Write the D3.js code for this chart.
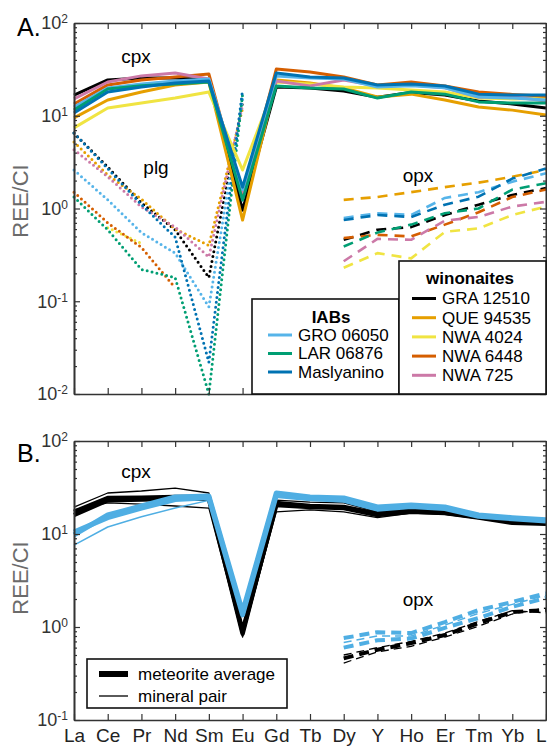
<!DOCTYPE html>
<html>
<head>
<meta charset="utf-8">
<script src="https://cdn.jsdelivr.net/npm/d3@7"></script>
<style>
  body { margin: 0; background: #fff; }
  svg { display: block; font-family: "Liberation Sans", Arial, sans-serif; }
</style>
</head>
<body>
<div id="chart"></div>
<script>
// categories
const elements = ["La", "Ce", "Pr", "Nd", "Sm", "Eu", "Gd", "Tb", "Dy", "Y", "Ho", "Er", "Tm", "Yb", "Lu"]
const winonaites = ["GRA 12510", "QUE 94535", "NWA 4024", "NWA 6448", "NWA 725"]
const iabs = ["GRO 06050", "LAR 06876", "Maslyanino"]
const samples = winonaites.concat(iabs)
const sampleColors = ["#000000", "#E69F00", "#F0E442", "#D55E00", "#CC79A7", "#56B4E9", "#009E73", "#0072B2"]

// panel A, one row per sample (same order as samples), null = not measured
const cpxA = [
  [16.7, 24.3, 25.5, 25.5, 24.3, 0.96, 20.4, 19.9, 18.5, 15.8, 17.8, 16.7, 14.4, 13.4, 12.1],
  [9.5, 14.8, 18.0, 21.5, 23.1, 0.75, 24.3, 22.5, 19.9, 15.9, 17.1, 14.8, 12.4, 11.5, 10.2],
  [7.4, 12.1, 13.7, 15.5, 18.0, 2.6, 23.1, 22.0, 20.4, 19.9, 19.0, 18.0, 15.5, 15.2, 15.5],
  [13.4, 21.5, 24.3, 26.2, 28.2, 1.3, 31.9, 29.7, 26.2, 21.5, 23.1, 20.9, 18.0, 17.0, 16.2],
  [15.2, 23.1, 26.9, 28.9, 24.9, 1.5, 23.7, 21.0, 24.3, 20.9, 21.5, 20.0, 15.9, 16.0, 14.4],
  [12.4, 19.9, 22.0, 23.7, 24.9, 1.6, 26.9, 25.5, 24.9, 20.4, 21.0, 20.0, 15.9, 15.5, 14.8],
  [11.5, 19.4, 21.0, 22.0, 23.1, 1.23, 20.9, 19.9, 19.4, 15.5, 18.0, 17.1, 14.1, 13.7, 13.7],
  [10.7, 18.0, 20.4, 22.6, 23.7, 1.7, 28.9, 26.2, 25.5, 21.5, 22.0, 20.9, 17.1, 16.7, 16.7],
]
const plgA = [
  [6.5, 2.8, 1.15, 0.59, 0.18, 14, null, null, null, null, null, null, null, null, null],
  [5.2, 2.3, 1.26, 0.60, 0.40, 12, null, null, null, null, null, null, null, null, null],
  [null, 0.62, 0.42, null, null, null, null, null, null, null, null, null, null, null, null],
  [1.5, 0.70, 0.38, 0.14, null, null, null, null, null, null, null, null, null, null, null],
  [4.3, 2.2, 1.04, 0.63, 0.30, 13, null, null, null, null, null, null, null, null, null],
  [2.6, 1.24, 0.55, 0.33, 0.087, 15, null, null, null, null, null, null, null, null, null],
  [1.33, 0.59, 0.22, 0.18, 0.01, 17, null, null, null, null, null, null, null, null, null],
  [6.5, 2.7, 1.1, 0.49, 0.022, 19, null, null, null, null, null, null, null, null, null],
]
const opxA = [
  [null, null, null, null, null, null, null, null, 0.46, 0.59, 0.63, 0.85, 1.1, 1.4, 1.66],
  [null, null, null, null, null, null, null, null, 1.24, 1.33, 1.5, 1.7, 1.9, 2.2, 2.6],
  [null, null, null, null, null, null, null, null, 0.23, 0.33, 0.29, 0.56, 0.61, 0.85, 1.05],
  [null, null, null, null, null, null, null, null, 0.48, 0.52, 0.5, 0.67, 0.91, 1.33, 1.6],
  [null, null, null, null, null, null, null, null, 0.27, 0.47, 0.46, 0.74, 0.81, 1.05, 1.18],
  [null, null, null, null, null, null, null, null, 0.79, 0.89, 0.85, 1.3, 1.5, 1.94, 2.4],
  [null, null, null, null, null, null, null, null, 0.39, 0.55, 0.67, 0.89, 1.0, 1.6, 1.87],
  [null, null, null, null, null, null, null, null, 0.75, 0.85, 0.81, 1.1, 1.34, 2.1, 2.7],
]

// panel B: meteorite averages (thick) and mineral pairs (thin), winonaites black, IABs blue
const cpxAvgWin = [
  [17.3, 24.4, 24.6, 25.0, 25.0, 0.9, 20.5, 19.5, 19.0, 16.0, 17.3, 16.8, 15.0, 13.2, 12.9],
  [16.0, 23.1, 23.5, 24.0, 24.0, 0.85, 21.5, 20.0, 19.5, 16.5, 17.8, 17.0, 15.3, 13.6, 13.2],
]
const cpxPairWin = [
  [19.5, 27.6, 29.0, 31.2, 27.6, 0.78, 23.1, 22.0, 21.6, 17.3, 19.0, 17.5, 15.5, 14.0, 13.5],
  [18.2, 21.6, 21.0, 20.0, 19.0, 0.8, 17.3, 18.2, 17.3, 15.0, 16.8, 16.3, 14.6, 13.0, 12.6],
]
const cpxAvgIab = [
  [9.8, 16.0, 20.0, 25.0, 25.6, 1.45, 27.6, 25.0, 24.4, 19.5, 20.5, 19.5, 16.0, 15.0, 14.2],
  [10.5, 15.0, 19.0, 23.5, 24.5, 1.35, 26.0, 24.0, 23.0, 18.5, 19.8, 18.8, 15.5, 14.6, 13.8],
]
const cpxPairIab = [
  [7.6, 11.9, 15.3, 19.0, 23.0, 1.3, 27.0, 24.6, 24.0, 19.2, 20.2, 19.2, 15.8, 14.8, 14.0],
]
const opxAvgWin = [
  [null, null, null, null, null, null, null, null, 0.46, 0.57, 0.67, 0.82, 1.1, 1.45, 1.52],
]
const opxPairWin = [
  [null, null, null, null, null, null, null, null, 0.5, 0.6, 0.7, 0.86, 1.15, 1.5, 1.42],
  [null, null, null, null, null, null, null, null, 0.41, 0.54, 0.62, 0.78, 1.02, 1.38, 1.6],
]
const opxAvgIab = [
  [null, null, null, null, null, null, null, null, 0.76, 0.88, 0.86, 1.13, 1.52, 1.86, 2.3],
  [null, null, null, null, null, null, null, null, 0.6, 0.72, 0.75, 0.98, 1.25, 1.65, 2.05],
]
const opxPairIab = [
  [null, null, null, null, null, null, null, null, 0.68, 0.8, 0.8, 1.05, 1.4, 1.75, 2.2],
]

const expA = [-2, -1, 0, 1, 2]
const expB = [-1, 0, 1, 2]

const svg = d3.select("#chart").append("svg")
  .attr("width", 547)
  .attr("height", 747)

const x = d3.scalePoint().domain(elements).range([74, 546])
const yA = d3.scaleLog().domain([1e-2, 1e2]).range([394, 23])
const yB = d3.scaleLog().domain([1e-1, 1e2]).range([720, 441])

const IAB_BLUE = "#4FAEE3"

const toPoints = (row) => row
  .map((v, i) => ({ el: elements[i], v: v }))
  .filter((d) => d.v != null)

const drawFrame = (y, exps, showX) => {
  const [y0, y1] = y.range()
  const minor = []
  exps.slice(0, -1).forEach((e) => {
    for (let k = 2; k < 10; k++) minor.push(k * Math.pow(10, e))
  })
  const g = svg.append("g").attr("class", "frame")

  // minor ticks left + right
  g.append("g").attr("transform", "translate(74,0)")
    .call(d3.axisLeft(y).tickValues(minor).tickSize(-3).tickSizeOuter(0).tickFormat(""))
  g.append("g").attr("transform", "translate(546,0)")
    .call(d3.axisRight(y).tickValues(minor).tickSize(-3).tickSizeOuter(0).tickFormat(""))

  // major left with 10^n labels
  const left = g.append("g").attr("transform", "translate(74,0)")
    .call(d3.axisLeft(y).tickValues(exps.map((e) => Math.pow(10, e))).tickSize(-6).tickSizeOuter(0).tickPadding(6))
  left.selectAll(".tick text").each(function (d) {
    const t = d3.select(this).text("")
      .attr("font-size", 18).attr("fill", "#333").attr("font-family", "Liberation Sans, Arial, sans-serif")
    t.append("tspan").text("10")
    t.append("tspan").attr("dy", "-0.5em").attr("font-size", 12).text(Math.round(Math.log10(d)))
  })
  g.append("g").attr("transform", "translate(546,0)")
    .call(d3.axisRight(y).tickValues(exps.map((e) => Math.pow(10, e))).tickSize(-6).tickSizeOuter(0).tickFormat(""))

  // top and bottom
  g.append("g").attr("transform", `translate(0,${y1})`)
    .call(d3.axisTop(x).tickSize(-6).tickSizeOuter(0).tickFormat(""))
  const bottom = g.append("g").attr("transform", `translate(0,${y0})`)
    .call(d3.axisBottom(x).tickSize(-6).tickSizeOuter(0).tickPadding(9).tickFormat(showX ? null : ""))
  bottom.selectAll(".tick text")
    .attr("font-size", 19).attr("fill", "#222").attr("font-family", "Liberation Sans, Arial, sans-serif")

  g.selectAll(".domain").attr("stroke", "#333").attr("stroke-width", 1.6)
  g.selectAll(".tick line").attr("stroke", "#333").attr("stroke-width", 1.2)
}

const drawLines = (rows, y, opts) => {
  const line = d3.line().x((d) => x(d.el)).y((d) => y(d.v))
  svg.append("g").selectAll("path").data(rows).enter()
    .append("path")
    .attr("d", (r) => line(toPoints(r)))
    .attr("fill", "none")
    .attr("stroke", (r, i) => opts.colors ? opts.colors[i] : opts.color)
    .attr("stroke-width", opts.width)
    .attr("stroke-linejoin", "round")
    .attr("stroke-linecap", opts.cap || "butt")
    .attr("stroke-dasharray", opts.dash || null)
}

const label = (txt, px, py, size, extra) => {
  const t = svg.append("text").attr("x", px).attr("y", py).attr("font-size", size).text(txt)
  if (extra) extra(t)
  return t
}

// ---- PANEL A ----
drawLines(opxA, yA, { colors: sampleColors, width: 2.6, dash: "10 7" })
drawLines(plgA, yA, { colors: sampleColors, width: 3, dash: "0 5", cap: "round" })
drawLines(cpxA, yA, { colors: sampleColors, width: 3 })
drawFrame(yA, expA, false)

label("cpx", 136, 63, 19, (t) => t.attr("text-anchor", "middle"))
label("plg", 156, 174, 19, (t) => t.attr("text-anchor", "middle"))
label("opx", 418, 182, 19, (t) => t.attr("text-anchor", "middle"))
label("A.", 17, 36, 25)
label("REE/CI", 20, 201, 22, (t) => t.attr("fill", "#6b6b6b").attr("text-anchor", "middle")
  .attr("transform", "rotate(-90,20,201)").attr("dy", "0.35em"))

// legend IABs
const legI = svg.append("g")
legI.append("rect").attr("x", 252).attr("y", 299).attr("width", 147).attr("height", 95)
  .attr("fill", "#fff").attr("stroke", "#111").attr("stroke-width", 1.6)
legI.append("text").attr("x", 331).attr("y", 323).attr("text-anchor", "middle")
  .attr("font-size", 17).attr("font-weight", "bold").text("IABs")
iabs.forEach((name, i) => {
  const cy = 335 + i * 18.5
  legI.append("line").attr("x1", 268).attr("x2", 292).attr("y1", cy).attr("y2", cy)
    .attr("stroke", sampleColors[winonaites.length + i]).attr("stroke-width", 3)
  legI.append("text").attr("x", 298).attr("y", cy).attr("dy", "0.35em")
    .attr("font-size", 17).text(name)
})

// legend winonaites
const legW = svg.append("g")
legW.append("rect").attr("x", 399).attr("y", 261).attr("width", 147).attr("height", 133)
  .attr("fill", "#fff").attr("stroke", "#111").attr("stroke-width", 1.6)
legW.append("text").attr("x", 470).attr("y", 284).attr("text-anchor", "middle")
  .attr("font-size", 17).attr("font-weight", "bold").text("winonaites")
winonaites.forEach((name, i) => {
  const cy = 298.5 + i * 19.2
  legW.append("line").attr("x1", 412).attr("x2", 436).attr("y1", cy).attr("y2", cy)
    .attr("stroke", sampleColors[i]).attr("stroke-width", 3)
  legW.append("text").attr("x", 442).attr("y", cy).attr("dy", "0.35em")
    .attr("font-size", 17).text(name)
})

// ---- PANEL B ----
drawLines(opxPairWin, yB, { color: "#000", width: 1.3, dash: "8 5" })
drawLines(opxAvgWin, yB, { color: "#000", width: 4, dash: "10 6" })
drawLines(opxPairIab, yB, { color: IAB_BLUE, width: 1.5, dash: "8 5" })
drawLines(opxAvgIab, yB, { color: IAB_BLUE, width: 4, dash: "10 6" })
drawLines(cpxPairWin, yB, { color: "#000", width: 1.3 })
drawLines(cpxAvgWin, yB, { color: "#000", width: 4.5 })
drawLines(cpxPairIab, yB, { color: IAB_BLUE, width: 1.5 })
drawLines(cpxAvgIab, yB, { color: IAB_BLUE, width: 5 })
drawFrame(yB, expB, true)

label("cpx", 136, 478, 19, (t) => t.attr("text-anchor", "middle"))
label("opx", 418, 606, 19, (t) => t.attr("text-anchor", "middle"))
label("B.", 17, 462, 25)
label("REE/CI", 20, 578, 22, (t) => t.attr("fill", "#6b6b6b").attr("text-anchor", "middle")
  .attr("transform", "rotate(-90,20,578)").attr("dy", "0.35em"))

const legB = svg.append("g")
legB.append("rect").attr("x", 87).attr("y", 659).attr("width", 200).attr("height", 49)
  .attr("fill", "#fff").attr("stroke", "#111").attr("stroke-width", 1.6)
legB.append("line").attr("x1", 99).attr("x2", 128).attr("y1", 674).attr("y2", 674)
  .attr("stroke", "#000").attr("stroke-width", 6)
legB.append("line").attr("x1", 99).attr("x2", 128).attr("y1", 696).attr("y2", 696)
  .attr("stroke", "#000").attr("stroke-width", 1.3)
legB.append("text").attr("x", 138).attr("y", 674).attr("dy", "0.35em").attr("font-size", 17).text("meteorite average")
legB.append("text").attr("x", 138).attr("y", 696).attr("dy", "0.35em").attr("font-size", 17).text("mineral pair")
</script>
</body>
</html>
